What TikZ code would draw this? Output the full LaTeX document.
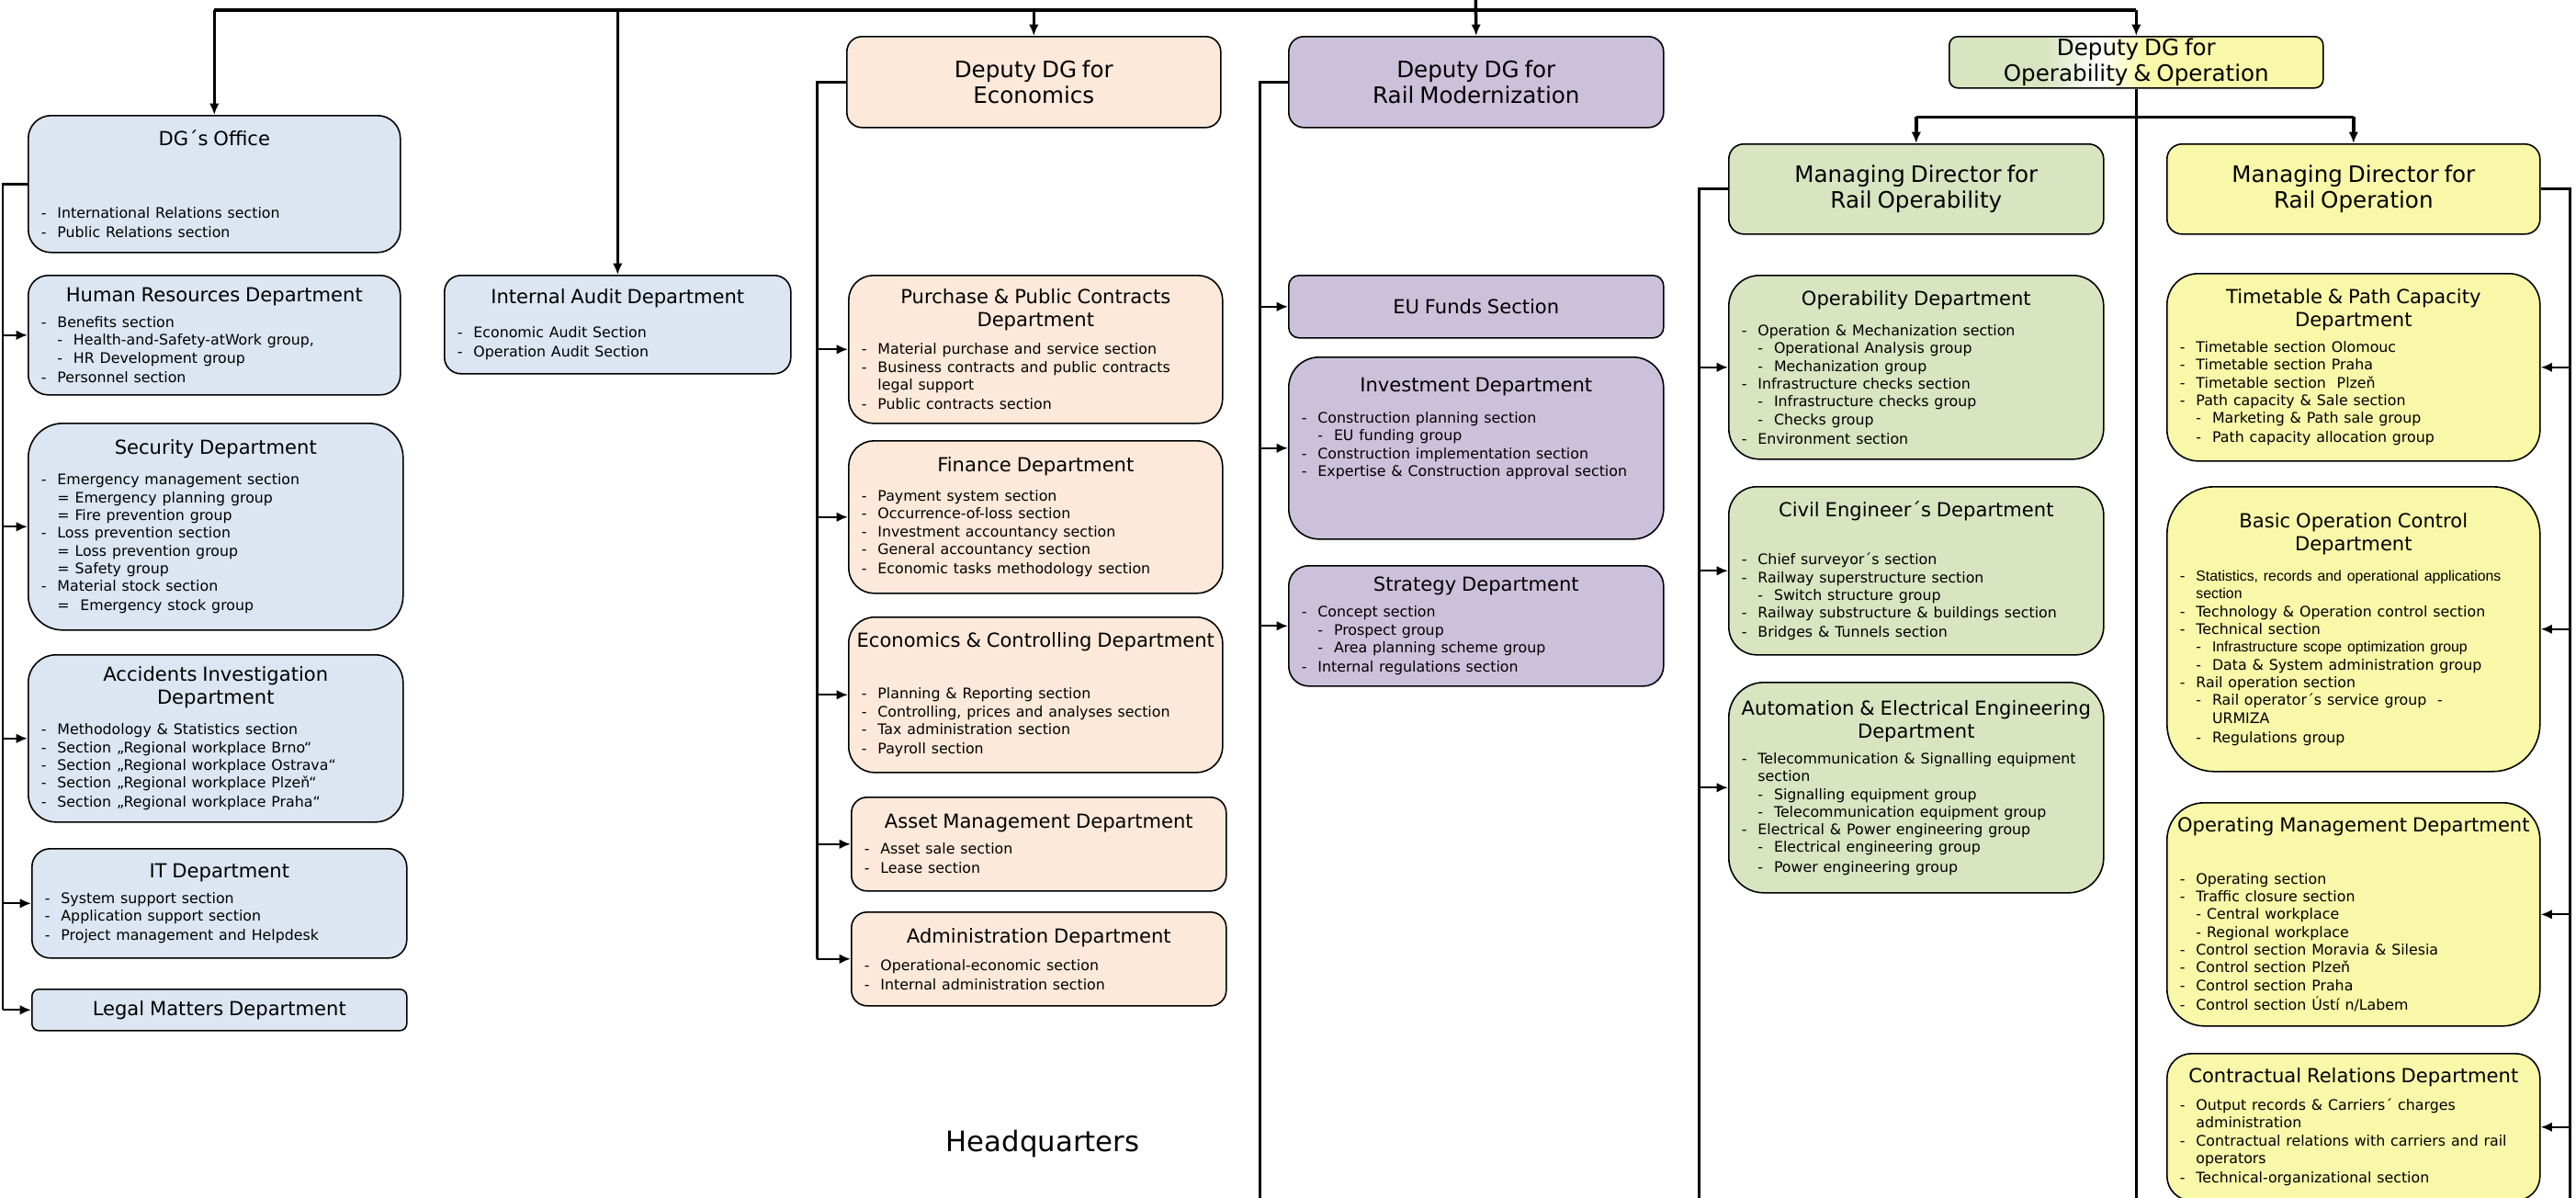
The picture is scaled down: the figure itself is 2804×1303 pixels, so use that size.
\documentclass[tikz,border=0pt]{standalone}
\usepackage{fontspec}
\setmainfont{DejaVu Sans}
\newfontfamily\arialfont{Liberation Sans}
\usetikzlibrary{arrows.meta}

\definecolor{hqblue}{HTML}{DCE6F2}
\definecolor{ecopeach}{HTML}{FDE9D9}
\definecolor{modlilac}{HTML}{CCC1DA}
\definecolor{opgreen}{HTML}{D9E4C0}
\definecolor{opyellow}{HTML}{F8F8A8}
\pgfdeclarehorizontalshading{dgshade}{100bp}{color(0bp)=(opgreen); color(25bp)=(opgreen);
	color(38bp)=(opgreen); color(45bp)=(white); color(51bp)=(opyellow); color(75bp)=(opyellow);
	color(100bp)=(opyellow)}

\newcommand{\ttl}{\fontsize{12}{14.2}\selectfont}
\newcommand{\bigttl}{\fontsize{14}{15.6}\selectfont}
\newcommand{\itm}{\fontsize{9}{11}\selectfont}
\newcommand{\hd}[2][6pt]{{\centering\ttl #2\par}\vspace{#1}\itm}
\newcommand{\hdonly}[1]{{\centering\ttl #1\par}}
\newcommand{\hdbig}[1]{{\centering\bigttl #1\par}}
\newcommand{\isec}{\hspace*{7pt}\makebox[10pt][l]{-}}
\newcommand{\igrp}{\hspace*{17pt}\makebox[10pt][l]{-}}
\newcommand{\icnt}{\hspace*{17pt}}
\newcommand{\icntb}{\hspace*{27pt}}

\begin{document}
\begin{tikzpicture}[x=0.02cm, y=-0.02cm, >={Latex[length=7pt,width=6pt]}]
	\tikzstyle{hq}=[fill=hqblue]
	\tikzstyle{eco}=[fill=ecopeach]
	\tikzstyle{mod}=[fill=modlilac]
	\tikzstyle{opa}=[fill=opgreen]
	\tikzstyle{opb}=[fill=opyellow]
	\tikzstyle{topline}=[line width=2.6pt]
	\tikzstyle{feed}=[->, line width=2pt]
	\tikzstyle{bus}=[line width=1.7pt]
	\tikzstyle{arr}=[->, line width=1.3pt]
	\tikzset{dept/.code 2 args={%
		\pgfmathsetlengthmacro\deptw{#1*0.02cm-2pt}%
		\tikzset{draw=black, line width=0.9pt, anchor=north west, align=left,
			inner xsep=1pt, inner ysep=1pt, text width=\deptw,
			minimum width=#1*0.02cm, minimum height=#2*0.02cm,
			rounded corners=#2*0.02cm/6}}}

	\useasboundingbox (0,0) rectangle (2804,1303);
	\clip (0,0) rectangle (2804,1303);
	\fill[white] (0,0) rectangle (2804,1303);

		% DG's staff
		\node[dept={405}{149}, hq] (ofc) at (30,125) {\hd[34pt]{DG´s Office}\isec International Relations section\\\isec Public Relations section};
		\node[dept={405}{130}, hq] (hr) at (30,299) {\hd[5pt]{Human Resources Department}\isec Benefits section\\\igrp Health-and-Safety-atWork group,\\\igrp HR Development group\\\isec Personnel section};
		\node[dept={408}{225}, hq] (sec) at (30,460) {\hd[8pt]{Security Department}\isec Emergency management section\\\icnt= Emergency planning group\\\icnt= Fire prevention group\\\isec Loss prevention section\\\icnt= Loss prevention group\\\icnt= Safety group\\\isec Material stock section\\\icnt=\ \ Emergency stock group};
		\node[dept={408}{182}, hq] (acc) at (30,712) {\hd[8pt]{Accidents Investigation\\Department}\isec Methodology \& Statistics section\\\isec Section „Regional workplace Brno“\\\isec Section „Regional workplace Ostrava“\\\isec Section „Regional workplace Plzeň“\\\isec Section „Regional workplace Praha“};
		\node[dept={408}{119}, hq] (it) at (34,923) {\hd[5pt]{IT Department}\isec System support section\\\isec Application support section\\\isec Project management and Helpdesk};
		\node[dept={408}{45}, hq] (leg) at (34,1076) {\hdonly{Legal Matters Department}};
		\node[dept={377}{107}, hq] (aud) at (483,299) {\hd[10pt]{Internal Audit Department}\isec Economic Audit Section\\\isec Operation Audit Section};

		% Economics
		\node[dept={407}{99}, eco] (dEco) at (921,39) {\hdbig{Deputy DG for\\Economics}};
		\node[dept={407}{161}, eco] (pur) at (923,299) {\hd[6pt]{Purchase \& Public Contracts\\Department}\isec Material purchase and service section\\\isec Business contracts and public contracts\\\icnt legal support\\\isec Public contracts section};
		\node[dept={407}{166}, eco] (fin) at (923,479) {\hd[7pt]{Finance Department}\isec Payment system section\\\isec Occurrence-of-loss section\\\isec Investment accountancy section\\\isec General accountancy section\\\isec Economic tasks methodology section};
		\node[dept={407}{169}, eco] (ctl) at (923,671) {\hd[21pt]{Economics \& Controlling Department}\isec Planning \& Reporting section\\\isec Controlling, prices and analyses section\\\isec Tax administration section\\\isec Payroll section};
		\node[dept={408}{102}, eco] (ast) at (926,867) {\hd[5pt]{Asset Management Department}\isec Asset sale section\\\isec Lease section};
		\node[dept={408}{102}, eco] (adm) at (926,992) {\hd[6pt]{Administration Department}\isec Operational-economic section\\\isec Internal administration section};
		\node (hq) at (1135,1245) {\fontsize{17.5}{20}\selectfont Headquarters};

		% Rail modernization
		\node[dept={408}{99}, mod] (dMod) at (1402,39) {\hdbig{Deputy DG for\\Rail Modernization}};
		\node[dept={408}{68}, mod] (eu) at (1402,299) {\hdonly{EU Funds Section}};
		\node[dept={408}{198}, mod] (inv) at (1402,388) {\hd[8pt]{Investment Department}\isec Construction planning section\\\igrp EU funding group\\\isec Construction implementation section\\\isec Expertise \& Construction approval section\par\vspace{15pt}\null};
		\node[dept={408}{131}, mod] (str) at (1402,615) {\hd[5pt]{Strategy Department}\isec Concept section\\\igrp Prospect group\\\igrp Area planning scheme group\\\isec Internal regulations section};

		% Operability & operation
		\node[dept={407}{56}, shading=dgshade] (dOp) at (2121,39) {\hdbig{Deputy DG for\\Operability \& Operation}};
		\node[dept={408}{98}, opa] (mdA) at (1881,156) {\hdbig{Managing Director for\\Rail Operability}};
		\node[dept={408}{200}, opa] (opb) at (1881,299) {\hd[8pt]{Operability Department}\isec Operation \& Mechanization section\\\igrp Operational Analysis group\\\igrp Mechanization group\\\isec Infrastructure checks section\\\igrp Infrastructure checks group\\\igrp Checks group\\\isec Environment section};
		\node[dept={408}{183}, opa] (civ) at (1881,529) {\hd[19pt]{Civil Engineer´s Department}\isec Chief surveyor´s section\\\isec Railway superstructure section\\\igrp Switch structure group\\\isec Railway substructure \& buildings section\\\isec Bridges \& Tunnels section};
		\node[dept={408}{229}, opa] (aut) at (1881,742) {\hd[5pt]{Automation \& Electrical Engineering\\Department}\isec Telecommunication \& Signalling equipment\\\icnt section\\\igrp Signalling equipment group\\\igrp Telecommunication equipment group\\\isec Electrical \& Power engineering group\\\igrp Electrical engineering group\\\igrp Power engineering group};

		\node[dept={406}{98}, opb] (mdB) at (2358,156) {\hdbig{Managing Director for\\Rail Operation}};
		\node[dept={406}{204}, opb] (tim) at (2358,297) {\hd[5pt]{Timetable \& Path Capacity\\Department}\isec Timetable section Olomouc\\\isec Timetable section Praha\\\isec Timetable section\ \ Plzeň\\\isec Path capacity \& Sale section\\\igrp Marketing \& Path sale group\\\igrp Path capacity allocation group};
		\node[dept={406}{310}, opb] (boc) at (2358,529) {\hd[8pt]{Basic Operation Control\\Department}\isec{\arialfont Statistics, records and operational applications}\\\icnt{\arialfont section}\\\isec Technology \& Operation control section\\\isec Technical section\\\igrp{\arialfont Infrastructure scope optimization group}\\\igrp Data \& System administration group\\\isec Rail operation section\\\igrp Rail operator´s service group\ \ -\\\icntb URMIZA\\\igrp Regulations group};
		\node[dept={406}{243}, opb] (opm) at (2358,873) {\hd[21pt]{Operating Management Department}\isec Operating section\\\isec Traffic closure section\\\icnt- Central workplace\\\icnt- Regional workplace\\\isec Control section Moravia \& Silesia\\\isec Control section Plzeň\\\isec Control section Praha\\\isec Control section Ústí n/Labem};
		\node[dept={406}{160}, opb] (con) at (2358,1146) {\hd[6pt]{Contractual Relations Department}\isec Output records \& Carriers´ charges\\\icnt administration\\\isec Contractual relations with carriers and rail\\\icnt operators\\\isec Technical-organizational section};

		%========================================================================
		% Arrows
		\coordinate (bar) at (0,11);
		\coordinate (dg) at (1606,-20);
		\coordinate (split) at (0,127);
		\coordinate (bot) at (0,1320);
		\coordinate (busA) at (3,0);
		\coordinate (busC) at (889,0);
		\coordinate (busD) at (1371,0);
		\coordinate (busE) at (1849,0);
		\coordinate (busF) at (2797,0);

		\draw[topline] (ofc.north |- bar) -- (dOp.north |- bar);
		\draw[feed] (ofc.north |- bar) -- (ofc.north);
		\draw[feed] (aud.north |- bar) -- (aud.north);
		\draw[feed] (dEco.north |- bar) -- (dEco.north);
		\draw[feed] (dg) -- (dMod.north);
		\draw[feed] (dOp.north |- bar) -- (dOp.north);

		\draw[bus] (ofc.west) -| (busA |- leg.west);
		\draw[arr] (busA |- hr.west) -- (hr.west);
		\draw[arr] (busA |- sec.west) -- (sec.west);
		\draw[arr] (busA |- acc.west) -- (acc.west);
		\draw[arr] (busA |- it.west) -- (it.west);
		\draw[arr] (busA |- leg.west) -- (leg.west);

		\draw[bus] (dEco.west) -| (busC |- adm.west);
		\draw[arr] (busC |- pur.west) -- (pur.west);
		\draw[arr] (busC |- fin.west) -- (fin.west);
		\draw[arr] (busC |- ctl.west) -- (ctl.west);
		\draw[arr] (busC |- ast.west) -- (ast.west);
		\draw[arr] (busC |- adm.west) -- (adm.west);

		\draw[bus] (dMod.west) -| (busD |- bot);
		\draw[arr] (busD |- eu.west) -- (eu.west);
		\draw[arr] (busD |- inv.west) -- (inv.west);
		\draw[arr] (busD |- str.west) -- (str.west);

		\draw[bus] (dOp.south) -- (dOp.south |- bot);
		\draw[bus] (mdA.north |- split) -- (mdB.north |- split);
		\draw[feed] (mdA.north |- split) -- (mdA.north);
		\draw[feed] (mdB.north |- split) -- (mdB.north);

		\draw[bus] (mdA.west) -| (busE |- bot);
		\draw[arr] (busE |- opb.west) -- (opb.west);
		\draw[arr] (busE |- civ.west) -- (civ.west);
		\draw[arr] (busE |- aut.west) -- (aut.west);

		\draw[bus] (mdB.east) -| (busF |- bot);
		\draw[arr] (busF |- tim.east) -- (tim.east);
		\draw[arr] (busF |- boc.east) -- (boc.east);
		\draw[arr] (busF |- opm.east) -- (opm.east);
		\draw[arr] (busF |- con.east) -- (con.east);
\end{tikzpicture}
\end{document}
